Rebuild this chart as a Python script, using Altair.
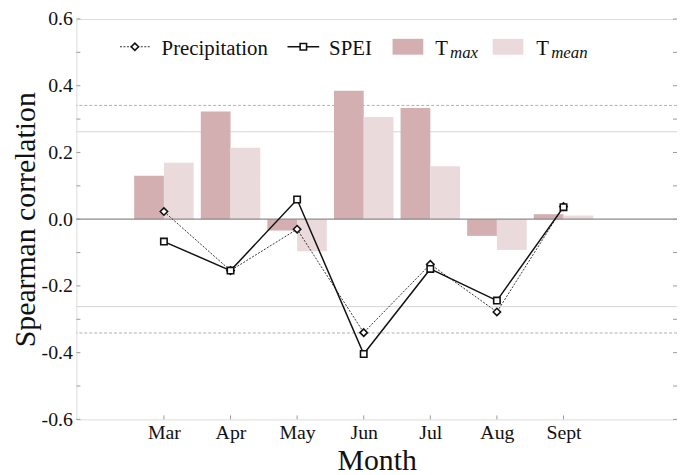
import altair as alt
import pandas as pd

months = ["Mar", "Apr", "May", "Jun", "Jul", "Aug", "Sept"]
month_idx = [1, 2, 3, 4, 5, 6, 7]
precip = [0.023, -0.154, -0.030, -0.340, -0.135, -0.278, 0.038]
spei = [-0.067, -0.154, 0.059, -0.404, -0.149, -0.244, 0.036]
tmax = [0.130, 0.323, -0.034, 0.385, 0.333, -0.050, 0.015]
tmean = [0.169, 0.214, -0.096, 0.306, 0.159, -0.092, 0.011]
sig_solid = [0.262, -0.262]
sig_dash = [0.341, -0.341]
y_ticks = [-0.6, -0.5, -0.4, -0.3, -0.2, -0.1, 0.0, 0.1, 0.2, 0.3, 0.4, 0.5, 0.6]
legend_labels = ["Precipitation", "SPEI", "T", "max", "T", "mean"]

df = pd.DataFrame(dict(idx=month_idx, month=months, precip=precip, spei=spei,
                       tmax=tmax, tmean=tmean))

W, H = 606, 404
OX, OY = 77, 17          # page position of the plot area's top-left corner
FONT = "Liberation Serif"
TXT = "#111111"
FRAME = "#9a9a9a"
C_TMAX = "#d3afb1"
C_TMEAN = "#ebdadb"

xscale = alt.Scale(domain=[-0.24, 8.63], nice=False, zero=False)
yscale = alt.Scale(domain=[-0.6, 0.6], nice=False)

label_expr = "[" + ",".join(f"'{m}'" for m in months) + "][datum.value-1]"
xaxis = alt.Axis(values=month_idx, labelExpr=label_expr, title="Month", tickSize=0,
                 domain=False, grid=False, labelFont=FONT, labelFontSize=20,
                 labelColor=TXT, labelPadding=3, titleFont=FONT, titleFontSize=30,
                 titleFontWeight="normal", titleColor=TXT, titlePadding=4)
yaxis = alt.Axis(values=[-0.6, -0.4, -0.2, 0.0, 0.2, 0.4, 0.6],
                 labelExpr="replace(format(datum.value, '.1f'), '\u2212', '-')",
                 title="Spearman correlation", tickSize=0, domain=False, grid=False,
                 labelFont=FONT, labelFontSize=20, labelColor=TXT, labelPadding=4,
                 titleFont=FONT, titleFontSize=30, titleFontWeight="normal",
                 titleColor=TXT, titlePadding=1)

base = alt.Chart(df)

ref_solid = alt.Chart(pd.DataFrame({"v": sig_solid})).mark_rule(
    color="#d6d6d6", strokeWidth=1).encode(y=alt.Y("v:Q", scale=yscale, axis=yaxis))
ref_dash = alt.Chart(pd.DataFrame({"v": sig_dash})).mark_rule(
    color="#999999", strokeWidth=0.8, strokeDash=[3, 2]).encode(
    y=alt.Y("v:Q", scale=yscale))

bars_max = base.mark_bar(size=30, xOffset=-15, color=C_TMAX).encode(
    x=alt.X("idx:Q", scale=xscale, axis=xaxis),
    y=alt.Y("tmax:Q", scale=yscale), y2=alt.datum(0))
bars_mean = base.mark_bar(size=30, xOffset=15, color=C_TMEAN).encode(
    x=alt.X("idx:Q", scale=xscale), y=alt.Y("tmean:Q", scale=yscale), y2=alt.datum(0))

zero = alt.Chart(pd.DataFrame({"v": [0.0]})).mark_rule(
    color="#8c8c8c", strokeWidth=1.2).encode(y=alt.Y("v:Q", scale=yscale))

line_p = base.mark_line(color="#333333", strokeWidth=1, strokeDash=[2, 1.5]).encode(
    x=alt.X("idx:Q", scale=xscale), y=alt.Y("precip:Q", scale=yscale))
line_s = base.mark_line(color="#111111", strokeWidth=1.5).encode(
    x=alt.X("idx:Q", scale=xscale), y=alt.Y("spei:Q", scale=yscale))
pts_p = base.mark_point(shape="diamond", size=55, filled=True, fill="white",
                        stroke="#111111", strokeWidth=1.6, opacity=1).encode(
    x=alt.X("idx:Q", scale=xscale), y=alt.Y("precip:Q", scale=yscale))
pts_s = base.mark_point(shape="square", size=42, filled=True, fill="white",
                        stroke="#111111", strokeWidth=1.6, opacity=1).encode(
    x=alt.X("idx:Q", scale=xscale), y=alt.Y("spei:Q", scale=yscale))

# inward ticks (frame decorations)
tick_df = pd.DataFrame({"v": y_ticks})
lt = alt.Chart(tick_df).mark_rule(color=FRAME, strokeWidth=1).encode(
    y=alt.Y("v:Q", scale=yscale), x=alt.value(0), x2=alt.value(4))
rt = alt.Chart(tick_df).mark_rule(color=FRAME, strokeWidth=1).encode(
    y=alt.Y("v:Q", scale=yscale), x=alt.value(W - 4), x2=alt.value(W))
bt = alt.Chart(pd.DataFrame({"m": month_idx})).mark_rule(color=FRAME, strokeWidth=1).encode(
    x=alt.X("m:Q", scale=xscale), y=alt.value(H - 4), y2=alt.value(H))

# legend (page positions converted to plot-area pixels)
def px(x):
    return x - OX
def py(y):
    return y - OY

one = pd.DataFrame({"a": [0]})
leg = []
leg.append(alt.Chart(one).mark_rule(color="#333333", strokeWidth=1, strokeDash=[2, 1.5]).encode(
    x=alt.value(px(121)), x2=alt.value(px(152)), y=alt.value(py(45))))
leg.append(alt.Chart(one).mark_point(shape="diamond", size=55, filled=True, fill="white",
                                     stroke="#111111", strokeWidth=1.6, opacity=1).encode(
    x=alt.value(px(136)), y=alt.value(py(45))))
leg.append(alt.Chart(one).mark_rule(color="#111111", strokeWidth=1.5).encode(
    x=alt.value(px(290)), x2=alt.value(px(322)), y=alt.value(py(45))))
leg.append(alt.Chart(one).mark_point(shape="square", size=42, filled=True, fill="white",
                                     stroke="#111111", strokeWidth=1.6, opacity=1).encode(
    x=alt.value(px(306)), y=alt.value(py(45))))
leg.append(alt.Chart(one).mark_rect(color=C_TMAX).encode(
    x=alt.value(px(396)), x2=alt.value(px(427)), y=alt.value(py(37)), y2=alt.value(py(53))))
leg.append(alt.Chart(one).mark_rect(color=C_TMEAN).encode(
    x=alt.value(px(497)), x2=alt.value(px(528)), y=alt.value(py(37)), y2=alt.value(py(53))))

def ltext(label, x, y, size=21, italic=False):
    return alt.Chart(pd.DataFrame({"t": [label]})).mark_text(
        font=FONT, fontSize=size, fontStyle="italic" if italic else "normal",
        align="left", baseline="alphabetic", color=TXT).encode(
        x=alt.value(px(x)), y=alt.value(py(y)), text="t:N")

leg.append(ltext(legend_labels[0], 163, 53))
leg.append(ltext(legend_labels[1], 332, 53))
leg.append(ltext(legend_labels[2], 439, 53))
leg.append(ltext(legend_labels[3], 454, 56, size=17, italic=True))
leg.append(ltext(legend_labels[4], 541, 53))
leg.append(ltext(legend_labels[5], 556, 56, size=17, italic=True))

chart = alt.layer(ref_solid, ref_dash, bars_max, bars_mean, zero, line_p, line_s,
                  pts_p, pts_s, lt, rt, bt, *leg).properties(
    width=W, height=H,
    autosize=alt.AutoSizeParams(type="none"),
    padding={"left": OX - 8, "top": OY - 8, "right": 0, "bottom": 475 - OY - H},
).configure_view(stroke=FRAME, strokeWidth=1.2).configure(background="white")

chart.save("out.html", embed_options={"renderer": "svg", "actions": False})
